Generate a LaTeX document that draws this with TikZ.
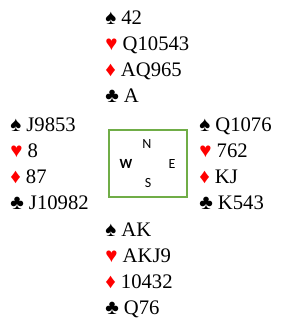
\documentclass[tikz,border=0pt]{standalone}
\usepackage{fontspec}
\usepackage{xcolor}
\setmainfont{Liberation Serif}
\newfontfamily\compassfont{Carlito}
\definecolor{tablegreen}{HTML}{70AD47}
\definecolor{suitred}{HTML}{FF0000}
\tikzset{
  % one hand of thirteen cards, four suit lines
  hand/.style={
    anchor=base west, align=left, inner sep=0pt,
    font=\fontsize{15.5}{19.5}\selectfont},
  % the table in the middle
  tablebox/.style={
    draw=tablegreen, line width=1pt, minimum width=58.5pt,
    minimum height=50.25pt, inner sep=0pt},
  seat/.style={font=\compassfont\fontsize{10.5}{12}\selectfont, inner sep=0pt},
  seatbold/.style={font=\compassfont\bfseries\fontsize{10.5}{12}\selectfont, inner sep=0pt},
}
\newcommand{\spd}{\char"2660}
\newcommand{\hrt}{\textcolor{suitred}{\char"2665}}
\newcommand{\dmd}{\textcolor{suitred}{\char"2666}}
\newcommand{\clb}{\char"2663}
% a hand, placed by the baseline of its last (club) line
\newcommand{\hand}[6]{%
  \node[hand] (#1) at (#2) {\spd\ #3\\ \hrt\ #4\\ \dmd\ #5\\ \clb\ #6};}

\begin{document}
\begin{tikzpicture}[x=0.75pt, y=-0.75pt]
  \useasboundingbox (0,0) rectangle (293,326);

  \hand{north}{105,102}{42}{Q10543}{AQ965}{A}
  \hand{west}{10,209}{J9853}{8}{87}{J10982}
  \hand{east}{199,209}{Q1076}{762}{KJ}{K543}
  \hand{south}{105,314}{AK}{AKJ9}{10432}{Q76}

  \node[tablebox] (table) at (148,163.5) {};
  \node[seat] (n) at (147,144) {N};
  \node[seatbold] (w) at (126,164) {W};
  \node[seat] (e) at (172,164) {E};
  \node[seat] (s) at (148,183) {S};

\end{tikzpicture}
\end{document}
